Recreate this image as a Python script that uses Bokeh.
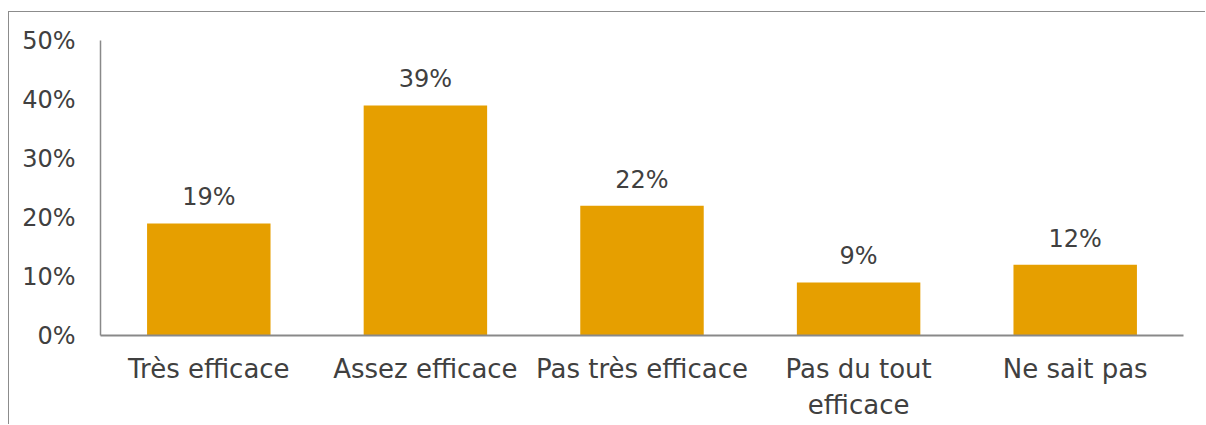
from bokeh.plotting import figure
from bokeh.models import ColumnDataSource, Range1d, FixedTicker, LabelSet
from bokeh.core.properties import value
from bokeh.embed import file_html
from bokeh.resources import INLINE

categories = ["Très efficace", "Assez efficace", "Pas très efficace", "Pas du tout\nefficace", "Ne sait pas"]
values = [0.19, 0.39, 0.22, 0.09, 0.12]
labels = ["19%", "39%", "22%", "9%", "12%"]
y_ticks = [0, 0.1, 0.2, 0.3, 0.4, 0.5]
y_tick_labels = {0: "0%", 0.1: "10%", 0.2: "20%", 0.3: "30%", 0.4: "40%", 0.5: "50%"}

FONT = "DejaVu Sans"
FS = "24px"
TXT = "#404040"
AX = "#898989"

src = ColumnDataSource(dict(cat=categories, val=values, lab=labels))

p = figure(x_range=categories, y_range=Range1d(0, 0.5),
           width=1197, height=413, output_backend="svg", toolbar_location=None,
           min_border_left=91, min_border_right=23, min_border_top=28, min_border_bottom=90)
p.styles = {"margin-left": "8px", "margin-top": "11px",
            "border-left": "1px solid #8c8c8c", "border-top": "1px solid #8c8c8c"}
p.outline_line_color = None
p.grid.grid_line_color = None

p.vbar(x="cat", top="val", width=0.57, source=src, color="#E69F00", line_color=None)

p.add_layout(LabelSet(x="cat", y="val", text="lab", source=src, text_align="center",
                      text_baseline="alphabetic", y_offset=18, text_font=value(FONT),
                      text_font_size=value(FS), text_color=TXT))

p.yaxis.ticker = FixedTicker(ticks=y_ticks)
p.yaxis.major_label_overrides = y_tick_labels
p.yaxis.major_tick_line_color = None
p.yaxis.minor_tick_line_color = None
p.yaxis.axis_line_color = AX
p.yaxis.axis_line_width = 1.5
p.yaxis.major_label_standoff = 19
p.xaxis.major_tick_line_color = None
p.xaxis.axis_line_color = AX
p.xaxis.axis_line_width = 2
p.xaxis.major_label_standoff = 12
for ax in (p.xaxis, p.yaxis):
    ax.major_label_text_font = FONT
    ax.major_label_text_color = TXT
p.yaxis.major_label_text_font_size = FS
p.xaxis.major_label_text_font_size = "26px"

open("out.html", "w").write(file_html(p, INLINE))
